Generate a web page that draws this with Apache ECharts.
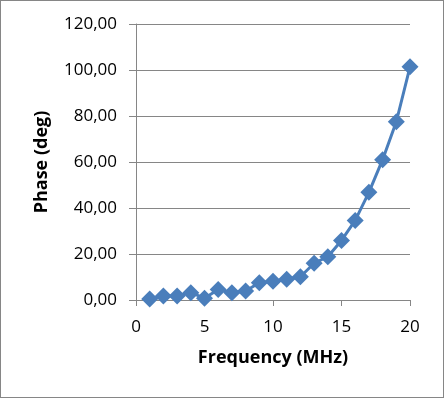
<!DOCTYPE html>
<html>
<head>
<meta charset="utf-8">
<script src="https://cdn.jsdelivr.net/npm/echarts@6/dist/echarts.min.js"></script>
<style>
html, body { margin: 0; padding: 0; background: #fff; }
#chartMain { width: 444px; height: 398px; box-sizing: border-box; border: 1px solid #868686; }
</style>
</head>
<body>
<div id="chartMain"></div>
<script>
// frequency (MHz) and phase (deg)
var freq = [1, 2, 3, 4, 5, 6, 7, 8, 9, 10, 11, 12, 13, 14, 15, 16, 17, 18, 19, 20];
var phase = [0.4, 1.7, 1.7, 3.2, 0.8, 4.6, 3.2, 3.9, 7.5, 8.2, 9.0, 10.1, 16.0, 18.8, 25.9, 34.6, 46.8, 61.0, 77.5, 101.4];

var gray = '#868686';
var blue = '#4a7ebb';

var myChart = echarts.init(document.getElementById('chartMain'));

var points = [];
for (var i = 0; i < freq.length; i++) {
	points.push([freq[i], phase[i]]);
}

var option = {
	animation: false,
	textStyle: { fontFamily: 'Open Sans', color: '#000' },
	grid: { left: 135, right: 33, top: 23, bottom: 97 },
	xAxis: {
		type: 'value',
		min: 0, max: 20, interval: 5,
		name: 'Frequency (MHz)',
		nameLocation: 'middle',
		nameGap: 49,
		nameTextStyle: { fontSize: 18, fontWeight: 'bold', color: '#000' },
		axisLine: { show: true, lineStyle: { color: gray, width: 1 } },
		axisTick: { show: true, length: 6, lineStyle: { color: gray } },
		axisLabel: { fontSize: 17, color: '#000', margin: 19 },
		splitLine: { show: false }
	},
	yAxis: {
		type: 'value',
		min: 0, max: 120, interval: 20,
		name: 'Phase (deg)',
		nameLocation: 'middle',
		nameGap: 85,
		nameRotate: 90,
		nameTextStyle: { fontSize: 18, fontWeight: 'bold', color: '#000' },
		axisLine: { show: true, lineStyle: { color: gray, width: 1 } },
		axisTick: { show: true, length: 7, lineStyle: { color: gray } },
		axisLabel: {
			fontSize: 17, color: '#000', margin: 19,
			formatter: function(v) { return v.toFixed(2).replace('.', ','); }
		},
		splitLine: { show: true, lineStyle: { color: gray, width: 1 } }
	},
	series: [{
		type: 'line',
		data: points,
		symbol: 'diamond',
		symbolSize: 17,
		lineStyle: { color: blue, width: 3 },
		itemStyle: { color: blue }
	}]
};

myChart.setOption(option);
</script>
</body>
</html>
